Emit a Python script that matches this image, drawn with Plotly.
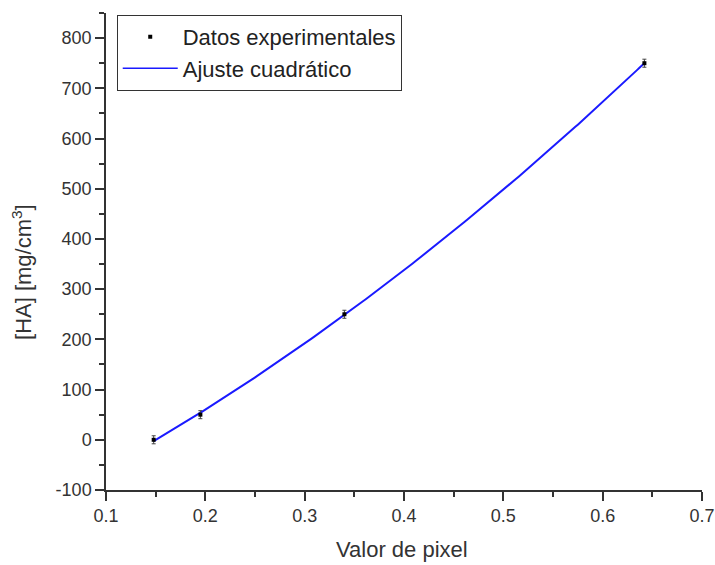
import numpy as np
import plotly.graph_objects as go

# Data
pixel_values = [0.148, 0.195, 0.340, 0.642]
ha_conc = [0, 50, 250, 750]
ha_err = [8, 8, 8, 8]

x_ticks = [0.1, 0.2, 0.3, 0.4, 0.5, 0.6, 0.7]
x_ticklabels = ["0.1", "0.2", "0.3", "0.4", "0.5", "0.6", "0.7"]
y_ticks = [-100, 0, 100, 200, 300, 400, 500, 600, 700, 800]
y_ticklabels = ["-100", "0", "100", "200", "300", "400", "500", "600", "700", "800"]

# Quadratic fit of the experimental data
coef = np.polyfit(pixel_values, ha_conc, 2)
x_fit = np.linspace(min(pixel_values), max(pixel_values), 200)
y_fit = np.polyval(coef, x_fit)

font_family = "Liberation Sans, Arial, sans-serif"
axis_color = "#333333"

fig = go.Figure()
fig.add_trace(go.Scatter(
    x=x_fit, y=y_fit, mode="lines", name="Ajuste cuadrático",
    line=dict(color="#1a1aff", width=2), showlegend=False,
))
fig.add_trace(go.Scatter(
    x=pixel_values, y=ha_conc, mode="markers", name="Datos experimentales",
    marker=dict(color="black", size=4, symbol="square"),
    error_y=dict(type="data", array=ha_err, color="#444444", thickness=1, width=2),
))
fig.add_trace(go.Scatter(
    x=[None], y=[None], mode="lines", name="Ajuste cuadrático",
    line=dict(color="#1a1aff", width=1.5),
))

axis_common = dict(
    showline=True, linecolor=axis_color, linewidth=1.5,
    ticks="outside", tickcolor=axis_color, tickwidth=1.5, ticklen=9,
    showgrid=False, zeroline=False, mirror=False, automargin=False,
    tickfont=dict(family=font_family, size=18, color="#333333"),
)

fig.update_layout(
    width=715, height=565,
    margin=dict(l=106, r=13, t=13, b=75),
    paper_bgcolor="white", plot_bgcolor="white",
    xaxis=dict(range=[0.1, 0.7], tickvals=x_ticks, ticktext=x_ticklabels,
               minor=dict(dtick=0.05, ticks="outside", ticklen=5, tickcolor=axis_color, tickwidth=1.5),
               **axis_common),
    yaxis=dict(range=[-100, 850], tickvals=y_ticks, ticktext=y_ticklabels,
               minor=dict(dtick=50, ticks="outside", ticklen=5, tickcolor=axis_color, tickwidth=1.5),
               **axis_common),
    legend=dict(x=0.018, y=0.996, xanchor="left", yanchor="top",
                bgcolor="white", bordercolor=axis_color, borderwidth=1,
                font=dict(family=font_family, size=22, color="#222222"),
                tracegroupgap=0, itemwidth=55),
    showlegend=True,
    annotations=[
        dict(text="Valor de pixel", xref="paper", yref="paper", x=0.497, y=-0.124,
             xanchor="center", yanchor="middle", showarrow=False,
             font=dict(family=font_family, size=22, color="#333333")),
        dict(text="[HA] [mg/cm<sup>3</sup>]", xref="paper", yref="paper", x=-0.141, y=0.457,
             xanchor="center", yanchor="middle", textangle=-90, showarrow=False,
             font=dict(family=font_family, size=22, color="#333333")),
    ],
)

fig.write_html("out.html")
